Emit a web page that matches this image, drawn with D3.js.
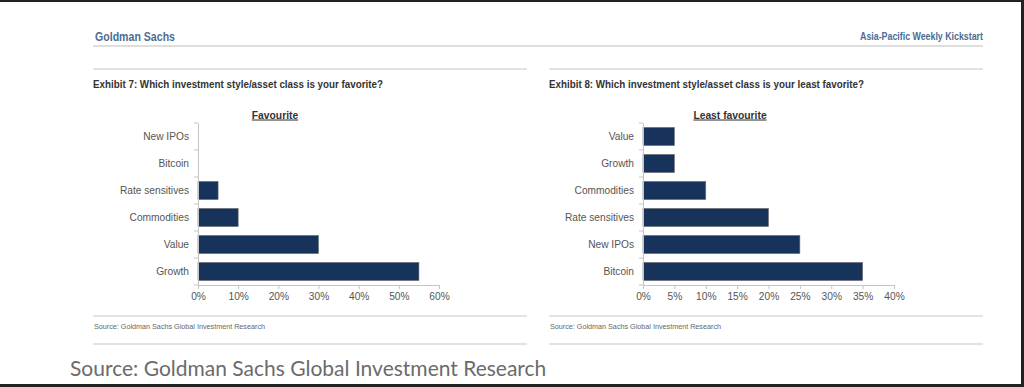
<!DOCTYPE html>
<meta charset="utf-8">
<style>
body { margin: 0; background: #fff; }
svg { display: block; }
.narrow { font-family: "Liberation Sans", Arial, sans-serif; }
.axis text { font-family: "Liberation Sans", Arial, sans-serif; font-size: 10.2px; fill: #555; }
.axis path, .axis line { stroke: #c4c4c4; }
.bar { fill: #17325b; stroke: #6d6d6d; stroke-width: 0.6; }
</style>
<svg width="1024" height="387"></svg>
<script src="https://d3js.org/d3.v7.min.js"></script>
<script>

// Exhibit 7 - favourite
var favCategories = ["New IPOs", "Bitcoin", "Rate sensitives", "Commodities", "Value", "Growth"],
    favValues = [0, 0, 0.05, 0.10, 0.30, 0.55],
    favTicks = [0, 0.1, 0.2, 0.3, 0.4, 0.5, 0.6];

// Exhibit 8 - least favourite
var leastCategories = ["Value", "Growth", "Commodities", "Rate sensitives", "New IPOs", "Bitcoin"],
    leastValues = [0.05, 0.05, 0.10, 0.20, 0.25, 0.35],
    leastTicks = [0, 0.05, 0.1, 0.15, 0.2, 0.25, 0.3, 0.35, 0.4];

var svg = d3.select("svg");

// condensed-looking text: squeeze glyphs into the measured width
function narrowText(x, y, size, weight, color, width, str, anchor) {
  return svg.append("text").attr("class", "narrow")
      .attr("x", x).attr("y", y)
      .attr("text-anchor", anchor || "start")
      .attr("textLength", width).attr("lengthAdjust", "spacingAndGlyphs")
      .style("font-size", size + "px").style("font-weight", weight).style("fill", color)
      .text(str);
}

// page header
narrowText(95, 40.5, 13.5, "bold", "#4d6d92", 80, "Goldman Sachs");
narrowText(860, 40, 11, "bold", "#4d6d92", 123, "Asia-Pacific Weekly Kickstart");
svg.append("line")
    .attr("x1", 93).attr("x2", 983).attr("y1", 46).attr("y2", 46)
    .style("stroke", "#bdbdbd").style("stroke-width", 1.2);

function panel(opt) {
  var g = svg.append("g");

  g.append("line")
      .attr("x1", opt.left).attr("x2", opt.left + 434).attr("y1", 69).attr("y2", 69)
      .style("stroke", "#c8c8c8").style("stroke-width", 1.2);
  narrowText(opt.left, 87.5, 11.3, "bold", "#333", opt.exhibitWidth, opt.exhibit);

  g.append("text")
      .attr("x", opt.titleX).attr("y", 118.5).attr("text-anchor", "middle")
      .style("font-family", "'Liberation Sans', Arial, sans-serif")
      .style("font-size", "10.3px").style("font-weight", "bold").style("fill", "#333")
      .style("text-decoration", "underline")
      .text(opt.title);

  var x = d3.scaleLinear().domain([0, opt.ticks[opt.ticks.length - 1]]).range([opt.x0, opt.x1]);
  var y = d3.scaleBand().domain(opt.categories).range([123, 285])
      .paddingInner(0.33).paddingOuter(0.165);

  // bars
  g.selectAll(".bar")
    .data(opt.values.map(function(v, i) { return {cat: opt.categories[i], v: v}; })
                    .filter(function(d) { return d.v > 0; }))
    .enter().append("rect")
      .attr("class", "bar")
      .attr("x", x(0))
      .attr("y", function(d) { return y(d.cat); })
      .attr("width", function(d) { return x(d.v) - x(0); })
      .attr("height", y.bandwidth());

  // x axis
  g.append("g")
      .attr("class", "axis")
      .attr("transform", "translate(0,285)")
      .call(d3.axisBottom(x).tickValues(opt.ticks).tickFormat(d3.format(".0%")).tickSize(4).tickPadding(4));

  // y axis: labels at band centres, ticks at band boundaries
  var ya = g.append("g")
      .attr("class", "axis")
      .attr("transform", "translate(" + x(0) + ",0)")
      .call(d3.axisLeft(y).tickSize(0).tickPadding(9));
  ya.selectAll(".tick line").remove();
  ya.selectAll(".bound")
    .data(d3.range(opt.categories.length + 1))
    .enter().append("line")
      .attr("x1", -4).attr("x2", 0)
      .attr("y1", function(i) { return 123 + i * y.step(); })
      .attr("y2", function(i) { return 123 + i * y.step(); });

  // source
  g.append("line")
      .attr("x1", opt.left).attr("x2", opt.left + 434).attr("y1", 316).attr("y2", 316)
      .style("stroke", "#c8c8c8").style("stroke-width", 1.2);
  narrowText(opt.left + 1, 329, 8, "normal", "#666", 171, "Source: Goldman Sachs Global Investment Research");
  g.append("line")
      .attr("x1", opt.left).attr("x2", opt.left + 434).attr("y1", 344).attr("y2", 344)
      .style("stroke", "#c8c8c8").style("stroke-width", 1.2);
}

panel({left: 93, exhibit: "Exhibit 7: Which investment style/asset class is your favorite?", exhibitWidth: 290,
       title: "Favourite", titleX: 275, x0: 198, x1: 439,
       categories: favCategories, values: favValues, ticks: favTicks});

panel({left: 549, exhibit: "Exhibit 8: Which investment style/asset class is your least favorite?", exhibitWidth: 315,
       title: "Least favourite", titleX: 730, x0: 643, x1: 894,
       categories: leastCategories, values: leastValues, ticks: leastTicks});

// caption below the image
svg.append("text")
    .attr("x", 70).attr("y", 376)
    .style("font-family", "Lato, sans-serif").style("font-size", "21px").style("fill", "#6b6b6b")
    .text("Source: Goldman Sachs Global Investment Research");

// dark frame edges
svg.append("rect").attr("x", 0).attr("y", 0).attr("width", 1024).attr("height", 2).style("fill", "#222");
svg.append("rect").attr("x", 1021).attr("y", 0).attr("width", 3).attr("height", 387).style("fill", "#222");
svg.append("rect").attr("x", 0).attr("y", 384).attr("width", 1024).attr("height", 3).style("fill", "#222");

</script>
